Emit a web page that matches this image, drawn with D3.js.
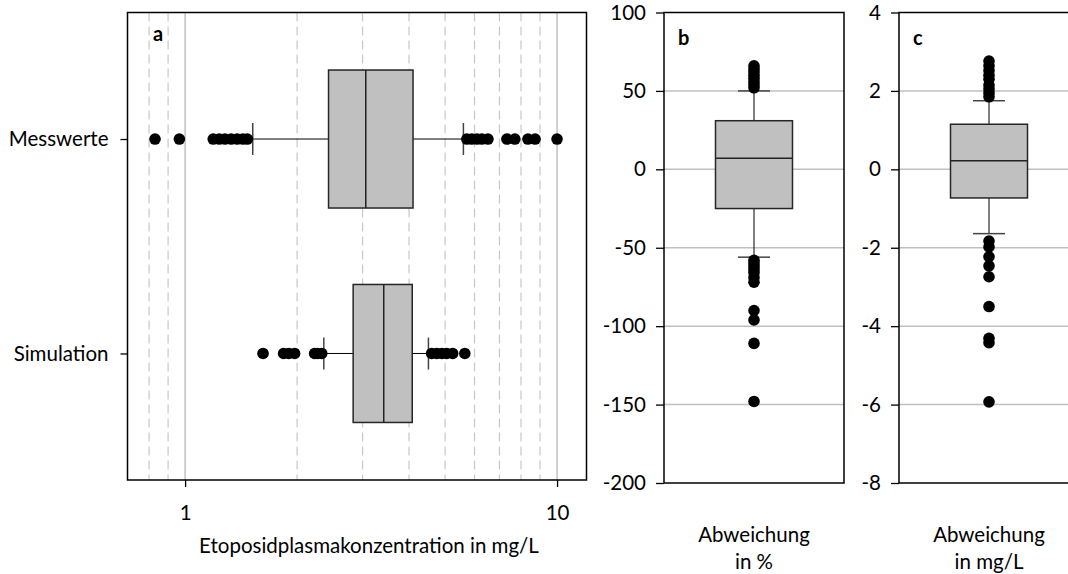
<!DOCTYPE html>
<html>
<head>
<meta charset="utf-8">
<script src="https://cdn.jsdelivr.net/npm/d3@7"></script>
<style>
  html, body { margin: 0; padding: 0; background: #fff; }
  svg { display: block; }
  text { font-family: Lato, "Open Sans", sans-serif; fill: #000; }
</style>
</head>
<body>
<svg id="chart" width="1068" height="574"></svg>
<script>
// ---- data ----
// box statistics: [lower whisker, Q1, median, Q3, upper whisker]
const categoriesA = ["Messwerte", "Simulation"];
const messStats = [1.52, 2.43, 3.06, 4.10, 5.60];
const messOutliers = [0.83, 0.965, 1.19, 1.235, 1.28, 1.33, 1.38, 1.43, 1.47,
                      5.72, 5.90, 6.09, 6.28, 6.52, 7.33, 7.70, 8.35, 8.73, 10.0];
const simStats = [2.36, 2.83, 3.42, 4.08, 4.51];
const simOutliers = [1.62, 1.84, 1.90, 1.97, 2.23, 2.27, 2.33,
                     4.60, 4.75, 4.90, 5.05, 5.24, 5.65];
const xTicksA = [1, 10];
const xGridMajor = [1, 10];
const xGridMinor = [0.8, 0.9, 2, 3, 4, 5, 6, 7, 8, 9];

const pctStats = [-56, -25, 7, 31, 50];
const pctOutliers = [52, 54, 56, 58, 60, 62, 64, 66,
                     -58, -60, -62, -64, -66, -69, -72, -90, -96, -111, -148];
const yTicksB = [100, 50, 0, -50, -100, -150, -200];

const mglStats = [-1.64, -0.73, 0.22, 1.15, 1.75];
const mglOutliers = [1.85, 1.95, 2.05, 2.15, 2.3, 2.4, 2.52, 2.64, 2.76,
                     -1.83, -1.98, -2.23, -2.46, -2.74, -3.50, -4.31, -4.42, -5.93];
const yTicksC = [4, 2, 0, -2, -4, -6, -8];

// ---- styles ----
const FONT = 20.5;
const BOX_FILL = "#c0c0c0";
const BOX_STROKE = "#262626";
const GRID = "#c8c8c8";
const CAP = 32;
const R = 5.8;

const svg = d3.select("#chart");

// ================= panel a: horizontal boxplots, log x =================
const a = { left: 127.5, right: 586.5, top: 12.5, bottom: 480 };
const xA = d3.scaleLog().domain([0.7, 12]).range([a.left, a.right]);
const yA = d3.scalePoint().domain(categoriesA).range([a.top, a.bottom]).padding(0.59);
const boxH = 138;

const gA = svg.append("g");
gA.selectAll("line.minor").data(xGridMinor).join("line")
  .attr("x1", d => xA(d)).attr("x2", d => xA(d))
  .attr("y1", a.top).attr("y2", a.bottom)
  .attr("stroke", GRID).attr("stroke-width", 1.2).attr("stroke-dasharray", "9,5");
gA.selectAll("line.major").data(xGridMajor).join("line")
  .attr("x1", d => xA(d)).attr("x2", d => xA(d))
  .attr("y1", a.top).attr("y2", a.bottom)
  .attr("stroke", "#c0c0c0").attr("stroke-width", 1.5);

function hBox(g, stats, outliers, cat) {
  const cy = yA(cat);
  const [lo, q1, med, q3, hi] = stats;
  g.append("line").attr("x1", xA(lo)).attr("x2", xA(q1)).attr("y1", cy).attr("y2", cy)
    .attr("stroke", "#000").attr("stroke-width", 1);
  g.append("line").attr("x1", xA(q3)).attr("x2", xA(hi)).attr("y1", cy).attr("y2", cy)
    .attr("stroke", "#000").attr("stroke-width", 1);
  [lo, hi].forEach(v => g.append("line")
    .attr("x1", xA(v)).attr("x2", xA(v)).attr("y1", cy - CAP / 2).attr("y2", cy + CAP / 2)
    .attr("stroke", "#444").attr("stroke-width", 1.5));
  g.append("rect").attr("x", xA(q1)).attr("y", cy - boxH / 2)
    .attr("width", xA(q3) - xA(q1)).attr("height", boxH)
    .attr("fill", BOX_FILL).attr("stroke", BOX_STROKE).attr("stroke-width", 1.5);
  g.append("line").attr("x1", xA(med)).attr("x2", xA(med))
    .attr("y1", cy - boxH / 2).attr("y2", cy + boxH / 2)
    .attr("stroke", "#222").attr("stroke-width", 1.5);
  g.selectAll(null).data(outliers).join("circle")
    .attr("cx", d => xA(d)).attr("cy", cy).attr("r", R).attr("fill", "#000");
}
hBox(gA, messStats, messOutliers, "Messwerte");
hBox(gA, simStats, simOutliers, "Simulation");

gA.append("rect").attr("x", a.left).attr("y", a.top)
  .attr("width", a.right - a.left).attr("height", a.bottom - a.top)
  .attr("fill", "none").attr("stroke", "#000").attr("stroke-width", 1.5);

const axA_y = gA.append("g").attr("transform", `translate(${a.left},0)`)
  .call(d3.axisLeft(yA).tickSize(7).tickPadding(12));
const axA_x = gA.append("g").attr("transform", `translate(0,${a.bottom})`)
  .call(d3.axisBottom(xA).tickValues(xTicksA).tickFormat(d3.format("d")).tickSize(7).tickPadding(18));
[axA_y, axA_x].forEach(ax => {
  ax.select(".domain").remove();
  ax.selectAll("line").attr("stroke", "#000").attr("stroke-width", 1.3);
  ax.selectAll("text").style("font-family", "Lato, sans-serif").style("font-size", FONT + "px").attr("fill", "#000");
});

gA.append("text").attr("x", 369).attr("y", 553).attr("text-anchor", "middle")
  .style("font-size", FONT + "px").text("Etoposidplasmakonzentration in mg/L");
gA.append("text").attr("x", 153).attr("y", 41)
  .style("font-size", "20px").style("font-weight", "bold").text("a");

// ================= panels b, c: vertical boxplots =================
function vPanel(opts) {
  const { left, right, top, bottom, domain, ticks, stats, outliers, label, title } = opts;
  const g = svg.append("g");
  const y = d3.scaleLinear().domain(domain).range([bottom, top]);
  const x = d3.scalePoint().domain([title[0]]).range([left, right]).padding(0.5);
  const cx = x(title[0]);
  const bw = 77;

  g.selectAll("line.grid").data(ticks.filter(t => t !== domain[0] && t !== domain[1])).join("line")
    .attr("x1", left).attr("x2", right).attr("y1", d => y(d)).attr("y2", d => y(d))
    .attr("stroke", "#c0c0c0").attr("stroke-width", 1.5);

  const [lo, q1, med, q3, hi] = stats;
  g.append("line").attr("x1", cx).attr("x2", cx).attr("y1", y(q3)).attr("y2", y(hi))
    .attr("stroke", "#000").attr("stroke-width", 1);
  g.append("line").attr("x1", cx).attr("x2", cx).attr("y1", y(q1)).attr("y2", y(lo))
    .attr("stroke", "#000").attr("stroke-width", 1);
  [lo, hi].forEach(v => g.append("line")
    .attr("x1", cx - CAP / 2).attr("x2", cx + CAP / 2).attr("y1", y(v)).attr("y2", y(v))
    .attr("stroke", "#444").attr("stroke-width", 1.5));
  g.append("rect").attr("x", cx - bw / 2).attr("y", y(q3))
    .attr("width", bw).attr("height", y(q1) - y(q3))
    .attr("fill", BOX_FILL).attr("stroke", BOX_STROKE).attr("stroke-width", 1.5);
  g.append("line").attr("x1", cx - bw / 2).attr("x2", cx + bw / 2).attr("y1", y(med)).attr("y2", y(med))
    .attr("stroke", "#222").attr("stroke-width", 1.5);
  g.selectAll("circle").data(outliers).join("circle")
    .attr("cx", cx).attr("cy", d => y(d)).attr("r", R).attr("fill", "#000");

  // frame
  g.append("rect").attr("x", left).attr("y", top)
    .attr("width", right - left).attr("height", bottom - top)
    .attr("fill", "none").attr("stroke", "#000").attr("stroke-width", 1.5);

  const ax = g.append("g").attr("transform", `translate(${left},0)`)
    .call(d3.axisLeft(y).tickValues(ticks).tickFormat(d3.format("d")).tickSize(8).tickPadding(10));
  ax.select(".domain").remove();
  ax.selectAll("line").attr("stroke", "#000").attr("stroke-width", 1.3);
  ax.selectAll("text").style("font-family", "Lato, sans-serif").style("font-size", FONT + "px")
    .attr("fill", "#000").text(d => d3.format("d")(d).replace("\u2212", "-"));

  g.append("text").attr("x", left + 14).attr("y", 45)
    .style("font-size", "20px").style("font-weight", "bold").text(label);

  const t = g.append("text").attr("text-anchor", "middle").style("font-size", FONT + "px");
  t.append("tspan").attr("x", cx).attr("y", 542).text(title[0]);
  t.append("tspan").attr("x", cx).attr("y", 569).text(title[1]);
}

vPanel({ left: 664, right: 844, top: 12.5, bottom: 483, domain: [-200, 100], ticks: yTicksB,
  stats: pctStats, outliers: pctOutliers, label: "b", title: ["Abweichung", "in %"] });
vPanel({ left: 899, right: 1079, top: 12.5, bottom: 483, domain: [-8, 4], ticks: yTicksC,
  stats: mglStats, outliers: mglOutliers, label: "c", title: ["Abweichung", "in mg/L"] });
</script>
</body>
</html>
